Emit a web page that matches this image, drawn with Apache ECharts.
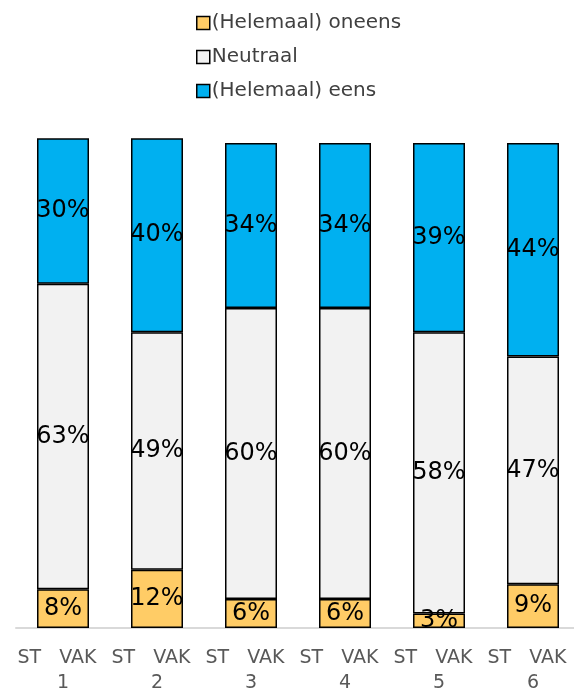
<!DOCTYPE html>
<html><head><meta charset="utf-8">
<script src="https://cdn.jsdelivr.net/npm/echarts@6/dist/echarts.min.js"></script>
<style>html,body{margin:0;padding:0;background:#fff}#c{width:574px;height:691px}</style>
</head><body><div id="c"></div>
<script>
var categories = ['ST   VAK  \n1','ST   VAK  \n2','ST   VAK  \n3','ST   VAK  \n4','ST   VAK  \n5','ST   VAK  \n6'];
var seriesNames = ['(Helemaal) oneens','Neutraal','(Helemaal) eens'];
var oneens = [8, 12, 6, 6, 3, 9];
var neutraal = [63, 49, 60, 60, 58, 47];
var eens = [30, 40, 34, 34, 39, 44];
var colors = ['#FFCC66', '#F2F2F2', '#00B0F0'];
var font = '"DejaVu Sans", sans-serif';
var chart = echarts.init(document.getElementById('c'));
function mk(name, data, color){
  return {name:name, type:'bar', stack:'a', data:data, barWidth:52, clip:false,
    itemStyle:{color:color, borderColor:'#000', borderWidth:1.5},
    label:{show:true, position:'inside', formatter:'{c}%', color:'#000', fontSize:24, fontWeight:'normal', fontFamily:font}};
}
chart.setOption({
  animation:false,
  legend:{orient:'vertical', left:191, top:8, itemGap:14, itemWidth:13, itemHeight:13, icon:'rect',
    itemStyle:{borderColor:'#000', borderWidth:1.5},
    textStyle:{fontSize:20, color:'#404040', fontWeight:'normal', fontFamily:font, padding:[0,0,0,-3]},
    data:seriesNames},
  grid:{left:16, width:564, top:138.15, height:489.85, containLabel:false, outerBoundsMode:'none'},
  xAxis:{type:'category', data:categories,
    axisLine:{lineStyle:{color:'#D9D9D9', width:2}}, axisTick:{show:false},
    axisLabel:{interval:0, fontSize:19, color:'#595959', fontWeight:'normal', fontFamily:font, lineHeight:25, margin:18}},
  yAxis:{type:'value', min:0, max:101, show:false, splitLine:{show:false}},
  series:[mk(seriesNames[0], oneens, colors[0]), mk(seriesNames[1], neutraal, colors[1]), mk(seriesNames[2], eens, colors[2])]
});
</script></body></html>
